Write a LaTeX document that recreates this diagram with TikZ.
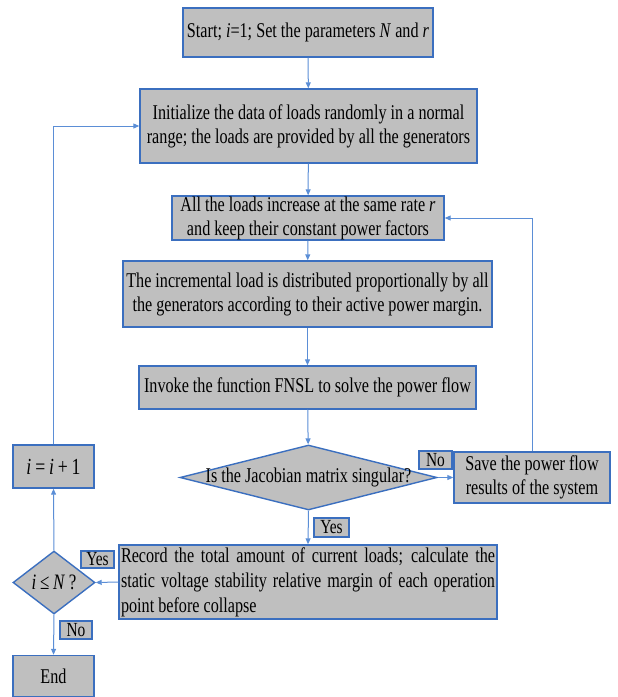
\documentclass[tikz,border=0pt]{standalone}
\usepackage{fontspec}
\setmainfont[FakeStretch=0.77]{Liberation Serif}
\usetikzlibrary{shapes.geometric,arrows.meta}
\definecolor{bord}{HTML}{3B6FBF}
\definecolor{conn}{HTML}{5B8ED6}
\definecolor{boxfill}{HTML}{BFBFBF}
\begin{document}
\begin{tikzpicture}[x=1pt,y=-1pt,
  font=\fontsize{21}{24}\selectfont,
  stepbox/.style={draw=bord, fill=boxfill, line width=1.4pt, inner sep=0pt, align=center, rectangle},
  decbox/.style={draw=bord, fill=boxfill, line width=1.4pt, inner sep=0pt, diamond},
  lab/.style={draw=bord, fill=boxfill, line width=1.2pt, inner sep=0pt, font=\fontsize{20}{22}\selectfont},
  conline/.style={draw=conn, line width=1pt, -{Triangle[length=6pt,width=5pt]}}]
\useasboundingbox (0,0) rectangle (618,697);

\node[stepbox, minimum width=250pt, minimum height=49pt] (start) at (308,32.5)
  {Start; \textit{i}=1; Set the parameters \textit{N} and \textit{r}};
\node[stepbox, minimum width=337pt, minimum height=74pt] (init) at (308.5,126)
  {Initialize the data of loads randomly in a normal\\range; the loads are provided by all the generators};
\node[stepbox, minimum width=272pt, minimum height=44pt] (loads) at (308,218)
  {All the loads increase at the same rate \textit{r}\\and keep their constant power factors};
\node[stepbox, minimum width=369pt, minimum height=66pt] (incr) at (307.5,294)
  {The incremental load is distributed proportionally by all\\the generators according to their active power margin.};
\node[stepbox, minimum width=337pt, minimum height=43pt] (invoke) at (307.5,387.5)
  {Invoke the function FNSL to solve the power flow};
\node[decbox, minimum width=257pt, minimum height=65pt] (jac) at (308.5,477.5)
  {\makebox[0pt]{Is the Jacobian matrix singular?}};
\node[stepbox, minimum width=156pt, minimum height=51pt] (save) at (532,477.5)
  {Save the power flow\\results of the system};
\node[stepbox, minimum width=378pt, minimum height=74pt, text width=374pt, align=justify,
  font=\fontsize{21}{25}\selectfont] (record) at (308,582)
  {Record the total amount of current loads; calculate the static voltage stability relative margin of each operation point before collapse};
\node[decbox, minimum width=82pt, minimum height=63pt] (cond) at (54,582.5)
  {\makebox[0pt]{\fontsize{22}{24}\selectfont\textit{i}\,≤\,\textit{N}\,?}};
\node[stepbox, minimum width=81pt, minimum height=43pt] (inc) at (53.5,466.5)
  {\fontsize{23}{24}\selectfont\textit{i}\,=\,\textit{i}\,+\,1};
\node[stepbox, minimum width=81pt, minimum height=41pt] (end) at (53.5,676)
  {End};

\node[lab, minimum width=33pt, minimum height=18pt] (no1) at (435.5,460) {No};
\node[lab, minimum width=35pt, minimum height=19pt] (yes1) at (331.5,527.5) {Yes};
\node[lab, minimum width=33pt, minimum height=17pt] (yes2) at (97.5,559.5) {Yes};
\node[lab, minimum width=32pt, minimum height=18pt] (no2) at (76,630) {No};

\draw[conline] (start) -- (init);
\draw[conline] (init) -- (loads);
\draw[conline] (loads) -- (incr);
\draw[conline] (incr) -- (invoke);
\draw[conline] (invoke) -- (jac);
\draw[conline] (jac.east) -- (save.west);
\draw[conline] (jac.south) -- (record.north);
\draw[conline] (save.north) |- (loads.east);
\draw[conline] (record.west) -- (cond.east);
\draw[conline] (cond.south) -- (end.north);
\draw[conline] (cond.north) -- (inc.south);
\draw[conline] (inc.north) |- (init.west);
\end{tikzpicture}
\end{document}
